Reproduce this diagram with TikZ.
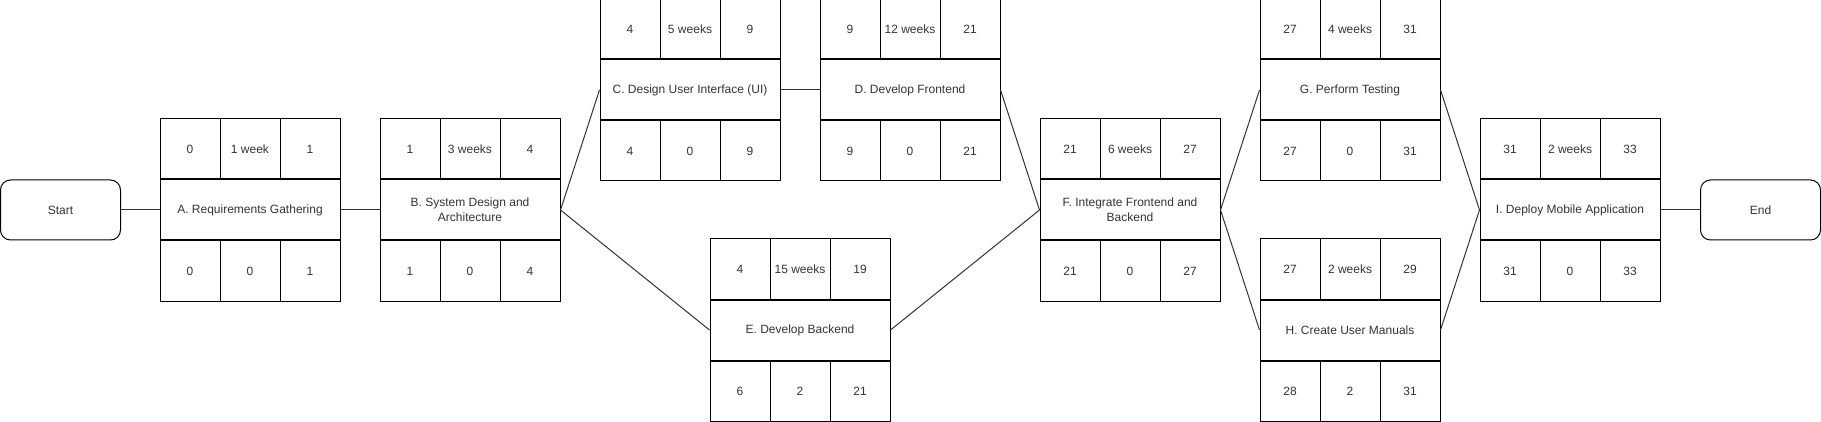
\documentclass[tikz,border=0pt]{standalone}
\usepackage{fontspec}
\setmainfont{Liberation Sans}
\definecolor{txt}{HTML}{333333}
\definecolor{edge}{HTML}{333333}
\tikzset{
  base/.style={draw=black, line width=1pt, inner sep=0pt, text=txt, align=center,
    font=\fontsize{12}{15}\selectfont},
  namebox/.style={base, minimum width=180pt, minimum height=60pt},
  cellbox/.style={base, minimum width=60pt, minimum height=60pt},
  termbox/.style={base, rounded corners=10pt, minimum width=120pt, minimum height=60pt},
  conn/.style={draw=edge, line width=1pt},
}
\newcommand\activity[9]{%
  \node[namebox] (#1) at #2 {#3};
  \node[cellbox, anchor=south west] (#1-es) at (#1.north west) {#4};
  \node[cellbox, anchor=south] (#1-du) at (#1.north) {#5};
  \node[cellbox, anchor=south east] (#1-ef) at (#1.north east) {#6};
  \node[cellbox, anchor=north west] (#1-ls) at (#1.south west) {#7};
  \node[cellbox, anchor=north] (#1-sl) at (#1.south) {#8};
  \node[cellbox, anchor=north east] (#1-lf) at (#1.south east) {#9};
}
\begin{document}
\begin{tikzpicture}[x=1pt,y=-1pt]
\useasboundingbox (0,0) rectangle (1821,422);
\node[termbox] (start) at (60.5,210) {Start};
\node[termbox] (end) at (1760.5,210) {End};
\activity{A}{(250,210)}{A. Requirements Gathering}{0}{1 week}{1}{0}{0}{1}
\activity{B}{(470,210)}{B. System Design and\\Architecture}{1}{3 weeks}{4}{1}{0}{4}
\activity{C}{(690,90)}{C. Design User Interface (UI)}{4}{5 weeks}{9}{4}{0}{9}
\activity{D}{(910,90)}{D. Develop Frontend}{9}{12 weeks}{21}{9}{0}{21}
\activity{E}{(800,330)}{E. Develop Backend}{4}{15 weeks}{19}{6}{2}{21}
\activity{F}{(1130,210)}{F. Integrate Frontend and\\Backend}{21}{6 weeks}{27}{21}{0}{27}
\activity{G}{(1350,90)}{G. Perform Testing}{27}{4 weeks}{31}{27}{0}{31}
\activity{H}{(1350,330)}{H. Create User Manuals}{27}{2 weeks}{29}{28}{2}{31}
\activity{I}{(1570,210)}{I. Deploy Mobile Application}{31}{2 weeks}{33}{31}{0}{33}
\draw[conn] (start.east) -- (A.west);
\draw[conn] (A.east) -- (B.west);
\draw[conn] (B.east) -- (C.west);
\draw[conn] (B.east) -- (E.west);
\draw[conn] (C.east) -- (D.west);
\draw[conn] (D.east) -- (F.west);
\draw[conn] (E.east) -- (F.west);
\draw[conn] (F.east) -- (G.west);
\draw[conn] (F.east) -- (H.west);
\draw[conn] (G.east) -- (I.west);
\draw[conn] (H.east) -- (I.west);
\draw[conn] (I.east) -- (end.west);
\end{tikzpicture}
\end{document}
